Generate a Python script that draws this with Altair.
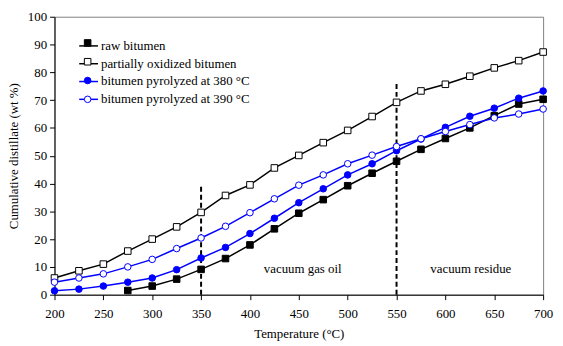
import altair as alt
import pandas as pd

# ---- data ----
temps = [200, 225, 250, 275, 300, 325, 350, 375, 400, 425, 450,
         475, 500, 525, 550, 575, 600, 625, 650, 675, 700]
raw_temps = [275, 300, 325, 350, 375, 400, 425, 450, 475, 500, 525,
             550, 575, 600, 625, 650, 675, 700]
raw_bitumen = [1.5, 3.1, 5.6, 9.1, 13.0, 17.9, 23.7, 29.3, 34.2, 39.2, 43.7,
               48.0, 52.3, 56.2, 60.0, 64.4, 68.6, 70.3]
oxidized = [6.0, 8.6, 11.0, 15.7, 20.0, 24.4, 29.6, 35.7, 39.5, 45.6, 50.1,
            54.7, 59.1, 64.1, 69.2, 73.3, 75.7, 78.6, 81.6, 84.2, 87.3]
pyro380 = [1.4, 2.0, 3.1, 4.5, 6.0, 9.0, 13.2, 17.0, 22.0, 27.5, 33.1,
           38.1, 43.1, 47.1, 51.8, 56.0, 60.2, 64.2, 67.1, 70.7, 73.3]
pyro390 = [4.5, 6.0, 7.5, 10.0, 12.7, 16.6, 20.4, 24.6, 29.5, 34.5, 39.4,
           43.1, 47.1, 50.2, 53.3, 56.1, 58.7, 61.2, 63.6, 65.0, 66.8]

series_names = ["raw bitumen", "partially oxidized bitumen",
                "bitumen pyrolyzed at 380 °C", "bitumen pyrolyzed at 390 °C"]

boundary_temps = [350, 550]
boundary_tops = [39, 76]
region_labels = ["vacuum gas oil", "vacuum residue"]
region_x = [454, 626]
region_y = [9.3, 9.3]

x_ticks = [200, 250, 300, 350, 400, 450, 500, 550, 600, 650, 700]
y_ticks = [0, 10, 20, 30, 40, 50, 60, 70, 80, 90, 100]

# ---- tables ----
rows = []
for name, xs, ys in zip(series_names,
                        [raw_temps, temps, temps, temps],
                        [raw_bitumen, oxidized, pyro380, pyro390]):
    for t, v in zip(xs, ys):
        rows.append({"T": t, "v": v, "series": name, "series_l": name})
df = pd.DataFrame(rows)

bounds = pd.DataFrame({"T": boundary_temps, "v": [0, 0], "top": boundary_tops})
regions = pd.DataFrame({"T": region_x, "v": region_y, "label": region_labels})

FONT = "Liberation Serif"

x_scale = alt.Scale(domain=[200, 700], nice=False, zero=False)
y_scale = alt.Scale(domain=[0, 100], nice=False, zero=False)

x_enc = alt.X("T:Q", scale=x_scale,
              axis=alt.Axis(values=x_ticks, title="Temperature (°C)", titleY=33,
                            tickSize=5, labelPadding=8, labelFlush=False,
                            labelOverlap=False, grid=False))
y_enc = alt.Y("v:Q", scale=y_scale,
              axis=alt.Axis(values=y_ticks, title="Cumulative distillate (wt %)",
                            titleX=-34, titleY=140.5, tickSize=5, labelPadding=3,
                            labelFlush=False, labelOverlap=False, grid=False))

line_legend = alt.Legend(title=None, orient="none", legendX=24, legendY=19,
                         symbolType="stroke", symbolSize=361, symbolStrokeWidth=1.5,
                         labelFontSize=13, labelFont=FONT, labelColor="black",
                         padding=0, rowPadding=-2.5, labelOffset=2)

lines = alt.Chart(df).mark_line().encode(
    x=x_enc, y=y_enc,
    color=alt.Color("series_l:N", sort=series_names,
                    scale=alt.Scale(range=["black", "black", "blue", "blue"]),
                    legend=line_legend),
    strokeWidth=alt.StrokeWidth("series_l:N", sort=series_names,
                                scale=alt.Scale(range=[1.5, 1.5, 1, 1]),
                                legend=None),
)

pt_legend = alt.Legend(title=None, orient="none", legendX=27, legendY=20,
                       labelFontSize=13, labelFont=FONT, labelOpacity=0,
                       symbolSize=44, symbolStrokeWidth=1,
                       padding=0, rowPadding=5)

points = alt.Chart(df).mark_point(size=44, strokeWidth=1, opacity=1).encode(
    x=x_enc, y=y_enc,
    shape=alt.Shape("series:N", sort=series_names,
                    scale=alt.Scale(domain=series_names,
                                    range=["square", "square", "circle", "circle"]),
                    legend=pt_legend),
    fill=alt.Fill("series:N", sort=series_names,
                  scale=alt.Scale(domain=series_names,
                                  range=["black", "white", "blue", "white"]),
                  legend=pt_legend),
    stroke=alt.Stroke("series:N", sort=series_names,
                      scale=alt.Scale(domain=series_names,
                                      range=["black", "black", "blue", "blue"]),
                      legend=pt_legend),
)

rules = alt.Chart(bounds).mark_rule(color="black", strokeWidth=2,
                                    strokeDash=[5, 3]).encode(
    x=x_enc, y=y_enc, y2="top:Q")

texts = alt.Chart(regions).mark_text(font=FONT, fontSize=13, color="black").encode(
    x=x_enc, y=y_enc, text="label:N")

chart = alt.layer(rules, lines, points, texts).properties(
    width=494, height=281,
    autosize=alt.AutoSizeParams(type="none"),
    padding={"left": 47, "top": 7, "right": 12, "bottom": 46},
).configure(font=FONT).configure_view(
    stroke="#808080", strokeWidth=1
).configure_axis(
    domainColor="black", tickColor="black", labelColor="black",
    titleColor="black", labelFont=FONT, titleFont=FONT,
    labelFontSize=13, titleFontSize=13, titleFontWeight="normal"
)

chart.save("out.html", embed_options={"renderer": "svg", "actions": False})
